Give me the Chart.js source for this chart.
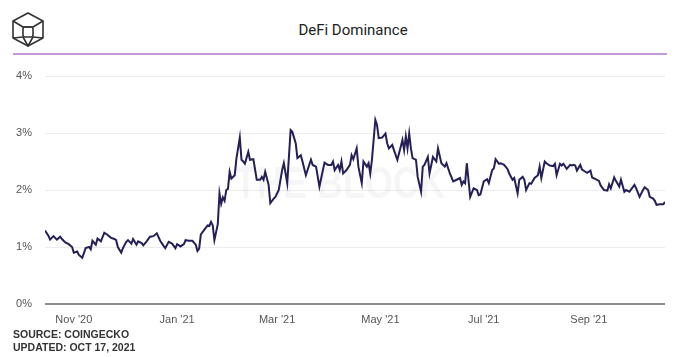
<!DOCTYPE html>
<html>
<head>
<meta charset="utf-8">
<script src="https://cdn.jsdelivr.net/npm/chart.js@4/dist/chart.umd.min.js"></script>
<style>
  html, body { margin: 0; padding: 0; background: #fff; }
  #wrap { position: relative; width: 680px; height: 357px; background: #fff; overflow: hidden; }
  #c { position: absolute; left: 0; top: 0; }
  #title { position: absolute; left: 253px; top: 21px; width: 200px; text-align: center;
           font-family: Roboto, "Liberation Sans", sans-serif; font-size: 15px; color: #222; }
  #rule { position: absolute; left: 13px; top: 53px; width: 654px; height: 2px; background: #c49ad6; }
  #logo { position: absolute; left: 11px; top: 11px; }
  .src { position: absolute; left: 13px; font-family: "Liberation Sans", Arial, sans-serif;
         font-size: 10.5px; font-weight: bold; color: #333; }
</style>
</head>
<body>
<div id="wrap">
  <svg id="logo" width="36" height="38" viewBox="0 0 36 38">
    <g fill="none" stroke="#333" stroke-width="1.6" stroke-linejoin="round">
      <polygon points="17,2 32,10 32,27 17,35 2,27 2,10"/>
      <polyline points="2,10 12,16 22,16 32,10"/>
      <rect x="12" y="16" width="10" height="10" rx="2"/>
      <polyline points="2,27 12,26"/>
      <polyline points="32,27 22,26"/>
      <polyline points="12,26 17,35 22,26"/>
    </g>
  </svg>
  <div id="title">DeFi Dominance</div>
  <div id="rule"></div>
  <canvas id="c" width="680" height="357"></canvas>
  <div class="src" style="top:328px">SOURCE: COINGECKO</div>
  <div class="src" style="top:341px">UPDATED: OCT 17, 2021</div>
</div>
<script>
// Days since 2020-10-15
const days = [0,2,3,5,7,9,10,12,14,16,17,19,20,22,24,26,27,28,30,31,33,35,37,39,41,42,43,45,46,48,49,51,52,54,55,57,58,60,62,64,66,68,70,71,73,75,77,78,80,82,83,85,87,89,90,91,92,94,96,97,98,99,100,102,103,104,105,106,107,108,109,110,112,113,115,116,117,118,120,121,123,125,127,128,129,130,132,133,135,136,138,140,141,143,145,146,148,149,151,152,154,155,157,158,160,162,165,167,169,170,171,173,174,175,176,178,180,181,182,184,185,187,188,190,191,192,193,195,196,197,199,201,202,203,205,206,208,210,211,212,213,214,215,216,217,219,220,222,223,224,226,227,229,231,232,234,236,237,239,241,243,245,246,247,248,249,251,253,255,256,257,259,261,262,264,265,266,268,269,271,273,274,276,277,279,280,282,283,284,286,287,289,291,292,293,295,296,298,300,301,302,304,305,306,308,310,311,312,313,314,316,317,319,320,322,323,325,327,328,330,332,333,334,336,337,339,340,342,343,345,346,348,349,351,353,354,356,357,359,360,361,363,365,366];
// DeFi dominance (%)
const dominance = [1.29,1.20,1.13,1.19,1.13,1.18,1.14,1.08,1.05,1.00,0.90,0.92,0.86,0.81,0.98,1.00,0.96,1.11,1.04,1.15,1.10,1.25,1.21,1.16,1.14,1.12,1.00,0.90,0.98,1.09,1.12,1.06,1.14,1.04,1.10,1.07,1.03,1.10,1.18,1.19,1.24,1.11,1.02,0.98,1.09,1.06,0.98,1.05,1.01,1.05,1.12,1.11,1.11,1.04,0.93,0.97,1.22,1.30,1.38,1.37,1.44,1.38,1.12,1.40,1.94,1.76,1.87,1.81,2.00,2.02,2.32,2.20,2.26,2.55,2.92,2.53,2.50,2.46,2.67,2.53,2.54,2.18,2.18,2.23,2.18,2.32,2.09,1.77,1.85,1.88,2.00,2.35,2.47,2.12,3.05,3.02,2.82,2.56,2.61,2.50,2.26,2.35,2.53,2.44,2.41,2.06,2.48,2.44,2.44,2.50,2.35,2.44,2.35,2.50,2.29,2.35,2.44,2.61,2.54,2.73,2.41,2.12,2.50,2.41,2.47,2.29,2.53,3.23,3.14,2.91,2.92,2.99,2.82,2.73,2.79,2.70,2.53,2.76,2.88,2.70,2.94,2.73,2.99,2.73,2.56,2.53,2.23,1.97,2.41,2.44,2.58,2.29,2.58,2.50,2.73,2.47,2.41,2.47,2.29,2.15,2.18,2.21,2.09,2.15,2.12,2.47,1.88,2.03,2.00,1.91,1.92,2.15,2.19,2.12,2.35,2.38,2.54,2.46,2.47,2.44,2.37,2.29,2.18,2.21,1.94,2.18,2.23,2.18,2.00,2.12,2.11,2.21,2.26,2.41,2.21,2.50,2.47,2.43,2.42,2.46,2.26,2.46,2.43,2.46,2.37,2.44,2.43,2.44,2.43,2.34,2.44,2.36,2.32,2.30,2.34,2.22,2.19,2.16,2.08,2.00,1.99,2.10,2.03,2.22,2.16,2.06,2.18,1.97,2.00,1.97,2.01,2.09,2.03,1.88,2.00,2.05,2.00,1.88,1.85,1.81,1.74,1.75,1.75,1.79];
// X tick positions (days since 2020-10-15) and labels
const monthDays = [17, 78, 137, 198, 259, 321];
const monthLabels = ["Nov '20", "Jan '21", "Mar '21", "May '21", "Jul '21", "Sep '21"];
const yTicks = [0, 1, 2, 3, 4];

const points = days.map((d, i) => ({ x: d, y: dominance[i] }));

const watermark = {
  id: 'watermark',
  beforeDatasetsDraw(chart) {
    const ctx = chart.ctx;
    ctx.save();
    ctx.translate(340, 186);
    ctx.scale(0.82, 1);
    ctx.font = 'bold 44px "Liberation Sans", Arial, sans-serif';
    ctx.fillStyle = 'rgba(0,0,0,0.035)';
    ctx.textAlign = 'center';
    ctx.textBaseline = 'middle';
    ctx.fillText('THE BLOCK', 0, 0);
    ctx.restore();
  }
};

new Chart(document.getElementById('c'), {
  type: 'line',
  data: {
    datasets: [{
      data: points,
      borderColor: '#241f57',
      borderWidth: 2,
      pointRadius: 0,
      tension: 0,
      fill: false
    }]
  },
  options: {
    responsive: false,
    devicePixelRatio: 1,
    animation: false,
    layout: { padding: { left: 0, right: 15, top: 76, bottom: 0 } },
    plugins: { legend: { display: false }, tooltip: { enabled: false } },
    scales: {
      x: {
        type: 'linear',
        min: 0,
        max: days[days.length - 1],
        afterBuildTicks: s => { s.ticks = monthDays.map(v => ({ value: v })); },
        afterFit: s => { s.height = 53; },
        ticks: {
          autoSkip: false,
          maxRotation: 0,
          padding: 9,
          color: '#555',
          font: { family: '"Liberation Sans", Arial, sans-serif', size: 11 },
          callback: v => monthLabels[monthDays.indexOf(v)]
        },
        grid: { display: false, drawTicks: false },
        border: { display: false }
      },
      y: {
        min: 0,
        max: 4,
        afterBuildTicks: s => { s.ticks = yTicks.map(v => ({ value: v })); },
        afterFit: s => { s.width = 45; },
        ticks: {
          padding: 13,
          color: '#555',
          font: { family: '"Liberation Sans", Arial, sans-serif', size: 11 },
          callback: v => v + '%'
        },
        grid: {
          drawTicks: false,
          color: c => c.tick && c.tick.value === 0 ? '#8c8c8c' : '#ececec',
          lineWidth: c => c.tick && c.tick.value === 0 ? 2 : 1
        },
        border: { display: false }
      }
    }
  },
  plugins: [watermark]
});
</script>
</body>
</html>
